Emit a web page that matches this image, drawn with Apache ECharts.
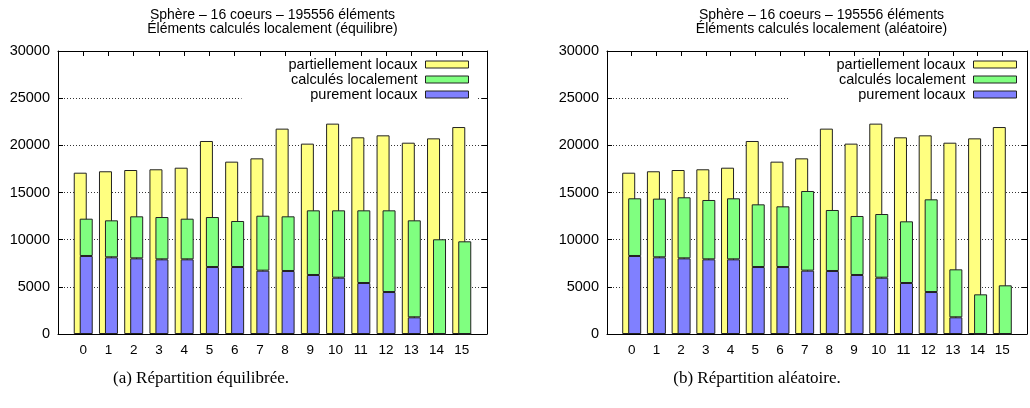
<!DOCTYPE html>
<html>
<head>
<meta charset="utf-8">
<script src="https://cdn.jsdelivr.net/npm/echarts@6/dist/echarts.min.js"></script>
<style>html,body{margin:0;padding:0;background:#fff}#c{width:1030px;height:408px}</style>
</head>
<body>
<div id="c"></div>
<script>
const categories = ['0','1','2','3','4','5','6','7','8','9','10','11','12','13','14','15'];
const yTicks = [0, 5000, 10000, 15000, 20000, 25000, 30000];
const partiellement = [17100, 17250, 17385, 17460, 17630, 20460, 18270, 18620, 21770, 20180, 22300, 20850, 21060, 20280, 20740, 21940];
const calculesEquilibre = [12225, 12050, 12475, 12400, 12225, 12400, 11980, 12540, 12475, 13110, 13110, 13110, 13110, 12050, 10040, 9825];
const calculesAleatoire = [14385, 14350, 14490, 14205, 14385, 13745, 13535, 15160, 13145, 12510, 12720, 11945, 14275, 6855, 4205, 5160];
const purement = [8270, 8130, 8020, 7915, 7915, 7100, 7100, 6715, 6680, 6255, 5970, 5405, 4450, 1770, 0, 0];
const titleLine1 = 'Sphère – 16 coeurs – 195556 éléments';
const titleA = 'Éléments calculés localement (équilibre)';
const titleB = 'Éléments calculés localement (aléatoire)';
const captionA = '(a) Répartition équilibrée.';
const captionB = '(b) Répartition aléatoire.';
const names = ['partiellement locaux', 'calculés localement', 'purement locaux'];
const colors = ['#ffff80', '#80ff80', '#8080ff'];

const xCats = [''].concat(categories, ['']);
const pad = arr => [null].concat(arr, [null]);
const SANS = 'Liberation Sans';

const chart = echarts.init(document.getElementById('c'), null, {renderer: 'canvas'});

const grids = [
  {left: 58, top: 51, width: 429, height: 283},
  {left: 607, top: 51, width: 429, height: 283}
];
const xAxes = [], yAxes = [], series = [], legends = [];
[calculesEquilibre, calculesAleatoire].forEach((calc, g) => {
  const base = {gridIndex: g, type: 'category', data: xCats, boundaryGap: false,
    axisLine: {show: true, onZero: false, lineStyle: {color: '#000', width: 1}},
    axisTick: {show: true, inside: true, length: 5, interval: 0, lineStyle: {color: '#000'}},
    splitLine: {show: false}};
  xAxes.push(Object.assign({}, base, {position: 'bottom',
    axisLabel: {interval: 0, color: '#000', fontFamily: SANS, fontSize: 13.5, margin: 9}}));
  xAxes.push(Object.assign({}, base, {position: 'top', axisLabel: {show: false}}));
  const ybase = {gridIndex: g, type: 'value', min: yTicks[0], max: yTicks[yTicks.length - 1], interval: yTicks[1] - yTicks[0],
    axisLine: {show: true, onZero: false, lineStyle: {color: '#000', width: 1}},
    axisTick: {show: true, inside: true, length: 5, lineStyle: {color: '#000'}}};
  yAxes.push(Object.assign({}, ybase, {position: 'left',
    axisLabel: {color: '#000', fontFamily: SANS, fontSize: 14.5, margin: 8, formatter: v => String(v)},
    splitLine: {show: true, lineStyle: {color: '#333', type: [1, 2], width: 1}}}));
  yAxes.push(Object.assign({}, ybase, {position: 'right', axisLabel: {show: false}, splitLine: {show: false}}));
  const xi = g * 2, yi = g * 2;
  const border = {borderColor: '#222', borderWidth: 1};
  series.push({type: 'bar', name: names[0], xAxisIndex: xi, yAxisIndex: yi, stack: 'y' + g,
    barWidth: 13, barGap: '-54%', data: pad(partiellement),
    itemStyle: Object.assign({color: colors[0]}, border)});
  series.push({type: 'bar', name: names[2], xAxisIndex: xi, yAxisIndex: yi, stack: 'gb' + g,
    barWidth: 13, barGap: '-54%', data: pad(purement),
    itemStyle: Object.assign({color: colors[2]}, border)});
  series.push({type: 'bar', name: names[1], xAxisIndex: xi, yAxisIndex: yi, stack: 'gb' + g,
    barWidth: 13, barGap: '-54%', data: pad(calc.map((v, i) => v - purement[i])),
    itemStyle: Object.assign({color: colors[1]}, border)});
});

const legendRight = [1030 - 469 - 9, 1030 - 1017 - 10];
[0, 1].forEach(g => {
  legends.push({
    orient: 'vertical', align: 'right', right: legendRight[g], top: 57,
    padding: [0, g === 0 ? 9 : 10, 4, 47], itemGap: 0, itemWidth: 43, itemHeight: 7,
    backgroundColor: '#fff', selectedMode: false, icon: 'rect',
    data: names.map((n, k) => ({name: n, itemStyle: {color: colors[k], borderColor: '#222', borderWidth: 1}})),
    textStyle: {color: '#000', fontFamily: SANS, fontSize: 14.5, lineHeight: 15, padding: [0, 3, 0, 0]}
  });
});

const txt = (t, x, y, font) => ({type: 'text', x: x, y: y, z: 100,
  style: {text: t, fill: '#000', font: font, align: 'center', verticalAlign: 'middle'}});

chart.setOption({
  animation: false,
  backgroundColor: '#fff',
  grid: grids,
  xAxis: xAxes,
  yAxis: yAxes,
  legend: legends,
  series: series,
  graphic: [
    txt(titleLine1, 272.5, 15, '14px "Liberation Sans"'),
    txt(titleA, 272.5, 29, '14px "Liberation Sans"'),
    txt(titleLine1, 821.5, 15, '14px "Liberation Sans"'),
    txt(titleB, 821.5, 29, '14px "Liberation Sans"'),
    txt(captionA, 201, 379, '17px "Liberation Serif"'),
    txt(captionB, 757, 379, '17px "Liberation Serif"')
  ]
});
</script>
</body>
</html>
